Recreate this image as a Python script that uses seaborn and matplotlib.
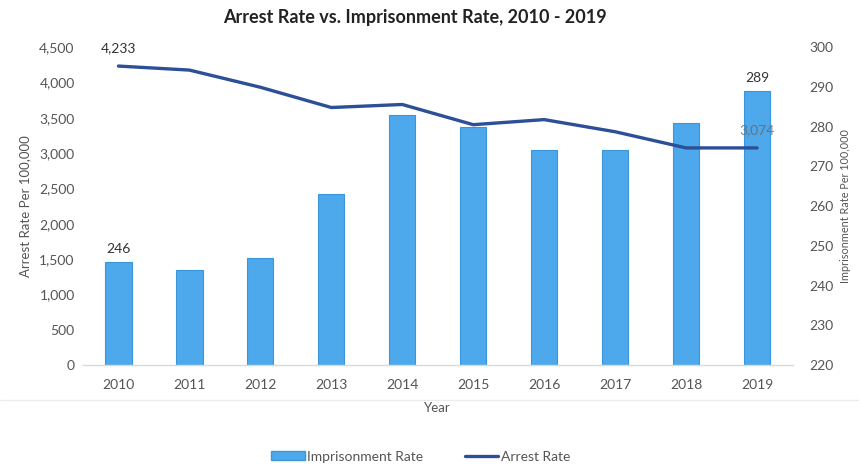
import matplotlib
matplotlib.use("Agg")
import matplotlib.pyplot as plt
from matplotlib.lines import Line2D
from matplotlib.patches import Patch
from matplotlib.ticker import FuncFormatter
import numpy as np
import pandas as pd
import seaborn as sns

years = ["2010", "2011", "2012", "2013", "2014", "2015", "2016", "2017", "2018", "2019"]
imprisonment_rate = [246, 244, 247, 263, 283, 280, 274, 274, 281, 289]
arrest_rate = [4233, 4176, 3933, 3646, 3689, 3403, 3475, 3303, 3074, 3074]

BAR_COLOR = "#4DA8EC"
BAR_EDGE = "#3A96DC"
LINE_COLOR = "#2C4F98"
TEXT = "#555555"

sns.set_theme(style="white")
plt.rcParams["font.family"] = ["Lato", "DejaVu Sans"]

df = pd.DataFrame({"Year": years,
                   "Imprisonment": imprisonment_rate,
                   "Arrest": arrest_rate,
                   "pos": np.arange(len(years))})

fig = plt.figure(figsize=(8.59, 4.66), dpi=100)
ax = fig.add_axes([0.0966, 0.2167, 0.826, 0.682])
ax2 = ax.twinx()

# Imprisonment rate bars on the right-hand scale
sns.barplot(data=df, x="Year", y="Imprisonment", color=BAR_COLOR, width=0.37,
            edgecolor=BAR_EDGE, linewidth=0.8, saturation=1, ax=ax)
ax.set_ylim(220, 300)
ax.set_yticks(np.arange(220, 301, 10))
ax.set_xlabel("Year", fontsize=9.5, color=TEXT, labelpad=8)
ax.tick_params(axis="x", length=0, labelsize=10, labelcolor=TEXT, pad=10)
ax.set_xlim(-0.5, len(years) - 0.5)

# Arrest rate line on the left-hand scale
sns.lineplot(data=df, x="pos", y="Arrest", color=LINE_COLOR, linewidth=2.4, ax=ax2)
ax2.set_ylim(0, 4500)
ax2.set_yticks(np.arange(0, 4501, 500))
ax2.yaxis.tick_left()
ax2.yaxis.set_label_position("left")
ax2.yaxis.set_major_formatter(FuncFormatter(lambda v, p: f"{int(v):,}"))
ax2.set_ylabel("Arrest Rate Per 100,000", fontsize=9.5, color=TEXT, labelpad=6)
ax2.set_xlabel("")
ax2.tick_params(axis="y", length=0, labelsize=10, labelcolor=TEXT, pad=6)
ax2.set_xlim(-0.5, len(years) - 0.5)
ax2.grid(False)
ax.grid(False)

# Keep the bar axis ticks on the right after twinning
ax.yaxis.tick_right()
ax.yaxis.set_label_position("right")
ax.set_ylabel("Imprisonment Rate Per 100,000", fontsize=7.8, color=TEXT, labelpad=5)
ax.tick_params(axis="y", length=0, labelsize=10, labelcolor=TEXT, pad=12)

for a in (ax, ax2):
    for s in a.spines.values():
        s.set_visible(False)
ax2.spines["bottom"].set_visible(True)
ax2.spines["bottom"].set_color("#d9d9d9")
ax2.spines["bottom"].set_linewidth(1)

# Data labels
ax.text(0, imprisonment_rate[0] + 1.8, f"{imprisonment_rate[0]}", ha="center", va="bottom",
        fontsize=10, color="#333333")
ax.text(9, imprisonment_rate[9] + 1.8, f"{imprisonment_rate[9]}", ha="center", va="bottom",
        fontsize=10, color="#333333")
ax2.text(0, arrest_rate[0] + 170, f"{arrest_rate[0]:,}", ha="center", va="bottom",
         fontsize=10, color="#333333")
ax2.text(9, arrest_rate[9] + 170, f"{arrest_rate[9]:,}", ha="center", va="bottom",
         fontsize=10, color="#666666", alpha=0.8)

fig.suptitle("Arrest Rate vs. Imprisonment Rate, 2010 - 2019", x=0.483, y=0.98,
             fontsize=13, fontweight="bold", color="#222222")

handles = [Patch(facecolor=BAR_COLOR, edgecolor=BAR_EDGE),
           Line2D([0], [0], color=LINE_COLOR, linewidth=2.4)]
fig.legend(handles, ["Imprisonment Rate", "Arrest Rate"], loc="center",
           bbox_to_anchor=(0.49, 0.02), ncol=2, frameon=False, fontsize=10,
           labelcolor=TEXT, handlelength=2.4, handleheight=0.6, columnspacing=3.0,
           handletextpad=0.2)

fig.add_artist(Line2D([0.0, 1.0], [1 - 400 / 466, 1 - 400 / 466], color="#ececec",
                      linewidth=1, transform=fig.transFigure))

fig.savefig("out.png", dpi=100)
